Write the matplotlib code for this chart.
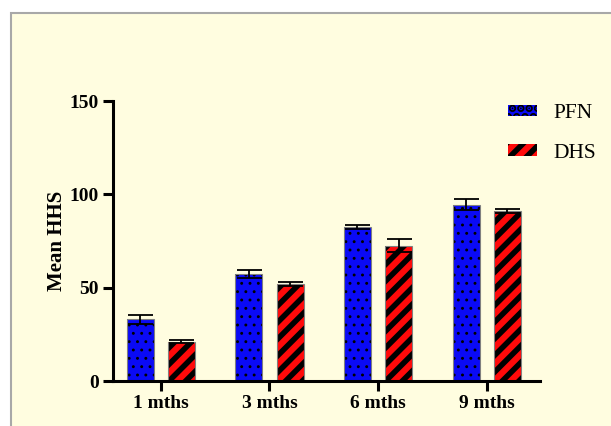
import numpy as np
import matplotlib
matplotlib.use("Agg")
import matplotlib.pyplot as plt
from matplotlib.patches import Rectangle, Patch

categories = ["1 mths", "3 mths", "6 mths", "9 mths"]
pfn_vals = [33, 57.5, 82.5, 94.5]
pfn_err = [2.5, 2.2, 1.2, 2.8]
dhs_vals = [21, 52, 72.5, 91]
dhs_err = [0.8, 1.2, 3.5, 0.9]
yticks = [0, 50, 100, 150]

plt.rcParams['font.family'] = ['Liberation Serif', 'DejaVu Serif']
plt.rcParams['hatch.color'] = 'black'

BLUE = '#0A0AF5'
RED = '#FF0A0A'
EDGE = '#808080'

fig = plt.figure(figsize=(6.11, 4.26), dpi=100)
fig.patch.set_facecolor('white')
panel = Rectangle((10.5/611, -0.01), 1.0, 1 - 12.5/426 + 0.01, transform=fig.transFigure,
                  facecolor='#FFFDE0', edgecolor='#A8A8A8', linewidth=1.5, zorder=-10)
fig.patches.append(panel)

ax = fig.add_axes([113/611, 45/426, (540-113)/611, (381-101)/426])
ax.set_facecolor('none')
ax.set_zorder(1)

x = np.arange(len(categories))
w = 0.25
off = 0.19


def set_hlw(patches, lw):
    for p in patches:
        try:
            p.set_hatch_linewidth(lw)
        except Exception:
            pass


plt.rcParams['hatch.linewidth'] = 0.9
b1 = ax.bar(x - off, pfn_vals, w, color=BLUE, edgecolor='black', linewidth=0,
            hatch='..', zorder=2)
set_hlw(b1, 0.9)
plt.rcParams['hatch.linewidth'] = 4.0
b2 = ax.bar(x + off, dhs_vals, w, color=RED, edgecolor='black', linewidth=0,
            hatch='//', zorder=2)
set_hlw(b2, 4.0)
ax.bar(x - off, pfn_vals, w, fill=False, edgecolor=EDGE, linewidth=0.8, zorder=2.5)
ax.bar(x + off, dhs_vals, w, fill=False, edgecolor=EDGE, linewidth=0.8, zorder=2.5)

ax.errorbar(x - off, pfn_vals, yerr=pfn_err, fmt='none', ecolor='black', elinewidth=1.3,
            capsize=9, capthick=1.3, zorder=3)
ax.errorbar(x + off, dhs_vals, yerr=dhs_err, fmt='none', ecolor='black', elinewidth=1.3,
            capsize=9, capthick=1.3, zorder=3)

ax.set_xlim(-0.44, 3.49)
ax.set_ylim(0, 150)
ax.set_yticks(yticks)
ax.set_xticks(x)
ax.set_xticklabels(categories, fontsize=14, fontweight='bold')
ax.set_yticklabels([str(t) for t in yticks], fontsize=14, fontweight='bold')
ax.set_ylabel('Mean HHS', fontsize=15, fontweight='bold', labelpad=2)

for s in ['top', 'right']:
    ax.spines[s].set_visible(False)
for s in ['left', 'bottom']:
    ax.spines[s].set_linewidth(2.2)
ax.tick_params(axis='both', width=2.2, length=7, direction='out', pad=3)

plt.rcParams['hatch.linewidth'] = 0.9
h1 = Patch(facecolor=BLUE, edgecolor='black', linewidth=0, hatch='..', label='PFN')
set_hlw([h1], 0.9)
plt.rcParams['hatch.linewidth'] = 4.0
h2 = Patch(facecolor=RED, edgecolor='black', linewidth=0, hatch='//', label='DHS')
set_hlw([h2], 4.0)
leg = ax.legend(handles=[h1, h2], loc='upper left', bbox_to_anchor=(489/611, 1 - 85/426),
                bbox_transform=fig.transFigure, frameon=False, fontsize=15.5,
                handlelength=1.35, handleheight=0.45, handletextpad=0.75, labelspacing=0.95)

fig.savefig('out.png', dpi=100)
